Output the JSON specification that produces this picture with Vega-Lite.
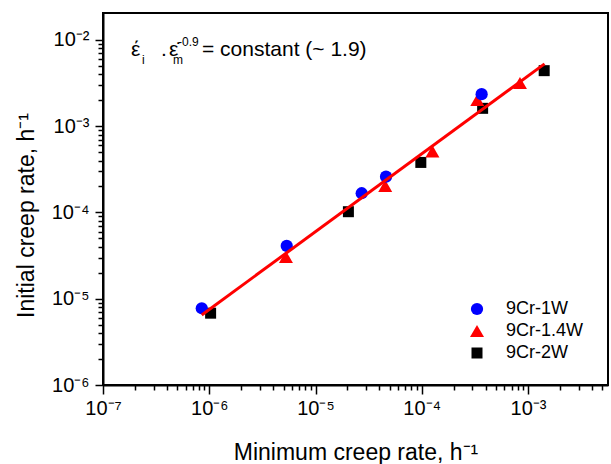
{
  "$schema": "https://vega.github.io/schema/vega-lite/v6.json",
  "width": 505,
  "height": 372,
  "autosize": {"type": "none"},
  "padding": {"left": 103, "top": 13, "right": 3, "bottom": 79},
  "background": "white",
  "config": {
    "font": "Liberation Sans",
    "view": {"stroke": "black", "strokeWidth": 2},
    "axis": {
      "grid": false,
      "domainColor": "black",
      "domainWidth": 2,
      "tickColor": "black",
      "tickWidth": 1.5,
      "labelColor": "black",
      "labelFontSize": 20,
      "labelFont": "Liberation Sans",
      "titleFont": "Liberation Sans",
      "titleFontSize": 23,
      "titleFontWeight": "normal",
      "titleColor": "black",
      "labelOverlap": false,
      "labelFlush": false
    }
  },
  "datasets": {
    "points": [
      {"series": "9Cr-2W", "x": 1.03e-6, "y": 6.8e-6},
      {"series": "9Cr-2W", "x": 2.04e-5, "y": 1.02e-4},
      {"series": "9Cr-2W", "x": 9.8e-5, "y": 3.8e-4},
      {"series": "9Cr-2W", "x": 3.74e-4, "y": 1.61e-3},
      {"series": "9Cr-2W", "x": 1.42e-3, "y": 4.4e-3},
      {"series": "9Cr-1.4W", "x": 5.27e-6, "y": 3.05e-5},
      {"series": "9Cr-1.4W", "x": 4.53e-5, "y": 2.03e-4},
      {"series": "9Cr-1.4W", "x": 1.26e-4, "y": 5.1e-4},
      {"series": "9Cr-1.4W", "x": 3.33e-4, "y": 2.01e-3},
      {"series": "9Cr-1.4W", "x": 8.4e-4, "y": 3.17e-3},
      {"series": "9Cr-1W", "x": 8.5e-7, "y": 7.75e-6},
      {"series": "9Cr-1W", "x": 5.36e-6, "y": 4.09e-5},
      {"series": "9Cr-1W", "x": 2.72e-5, "y": 1.67e-4},
      {"series": "9Cr-1W", "x": 4.61e-5, "y": 2.6e-4},
      {"series": "9Cr-1W", "x": 3.66e-4, "y": 2.35e-3}
    ],
    "fit": [
      {"x": 8.5e-7, "y": 6.48e-6},
      {"x": 1.43e-3, "y": 5.27e-3}
    ],
    "note": [
      {"x": 1.834e-7, "y": 6.52e-3}
    ]
  },
  "layer": [
    {
      "data": {"name": "points"},
      "mark": {"type": "point", "filled": true, "opacity": 1, "strokeWidth": 0},
      "encoding": {
        "x": {
          "field": "x", "type": "quantitative",
          "scale": {"type": "log", "domain": [1e-7, 5.66e-3], "nice": false},
          "axis": {
            "title": "Minimum creep rate, h⁻¹",
            "values": [1e-7,2e-7,3e-7,4e-7,5e-7,6e-7,7e-7,8e-7,9e-7,1e-6,2e-6,3e-6,4e-6,5e-6,6e-6,7e-6,8e-6,9e-6,1e-5,2e-5,3e-5,4e-5,5e-5,6e-5,7e-5,8e-5,9e-5,1e-4,2e-4,3e-4,4e-4,5e-4,6e-4,7e-4,8e-4,9e-4,1e-3,2e-3,3e-3,4e-3,5e-3],
            "labelExpr": "abs(log(datum.value)/LN10 - round(log(datum.value)/LN10)) < 0.001 ? '10⁻' + substring('⁰¹²³⁴⁵⁶⁷⁸⁹', -round(log(datum.value)/LN10), -round(log(datum.value)/LN10)+1) : ''",
            "tickSize": {"condition": {"test": "abs(log(datum.value)/LN10 - round(log(datum.value)/LN10)) < 0.001", "value": 9}, "value": 5},
            "labelPadding": 4,
            "titleBaseline": "alphabetic",
            "titleY": 74
          }
        },
        "y": {
          "field": "y", "type": "quantitative",
          "scale": {"type": "log", "domain": [1e-6, 2.05e-2], "nice": false},
          "axis": {
            "title": "Initial creep rate, h⁻¹",
            "values": [1e-6,2e-6,3e-6,4e-6,5e-6,6e-6,7e-6,8e-6,9e-6,1e-5,2e-5,3e-5,4e-5,5e-5,6e-5,7e-5,8e-5,9e-5,1e-4,2e-4,3e-4,4e-4,5e-4,6e-4,7e-4,8e-4,9e-4,1e-3,2e-3,3e-3,4e-3,5e-3,6e-3,7e-3,8e-3,9e-3,1e-2],
            "labelExpr": "abs(log(datum.value)/LN10 - round(log(datum.value)/LN10)) < 0.001 ? '10⁻' + substring('⁰¹²³⁴⁵⁶⁷⁸⁹', -round(log(datum.value)/LN10), -round(log(datum.value)/LN10)+1) : ''",
            "tickSize": {"condition": {"test": "abs(log(datum.value)/LN10 - round(log(datum.value)/LN10)) < 0.001", "value": 8}, "value": 5},
            "labelPadding": 6,
            "titleBaseline": "alphabetic",
            "titleX": -70,
            "titleY": 202
          }
        },
        "color": {
          "field": "series", "type": "nominal",
          "scale": {"domain": ["9Cr-1W", "9Cr-1.4W", "9Cr-2W"], "range": ["#0000ff", "#ff0000", "#000000"]},
          "legend": {
            "orient": "none", "legendX": 365, "legendY": 287, "title": null,
            "labelFontSize": 18, "labelFont": "Liberation Sans", "labelColor": "black",
            "rowPadding": 4, "padding": 0, "labelOffset": 20, "symbolStrokeWidth": 0
          }
        },
        "shape": {
          "field": "series", "type": "nominal",
          "scale": {"domain": ["9Cr-1W", "9Cr-1.4W", "9Cr-2W"], "range": ["circle", "triangle-up", "square"]}
        },
        "size": {
          "field": "series", "type": "nominal",
          "scale": {"type": "ordinal", "domain": ["9Cr-1W", "9Cr-1.4W", "9Cr-2W"], "range": [150, 196, 121]}
        }
      }
    },
    {
      "data": {"name": "fit"},
      "mark": {"type": "line", "color": "#ff0000", "strokeWidth": 3},
      "encoding": {
        "x": {"field": "x", "type": "quantitative"},
        "y": {"field": "y", "type": "quantitative"}
      }
    },
    {
      "data": {"name": "note"},
      "mark": {"type": "text", "text": "έ", "fontSize": 21, "align": "left", "baseline": "alphabetic", "color": "black"},
      "encoding": {"x": {"field": "x", "type": "quantitative"}, "y": {"field": "y", "type": "quantitative"}}
    },
    {
      "data": {"name": "note"},
      "mark": {"type": "text", "text": "i", "fontSize": 12, "dx": 11, "dy": 8, "align": "left", "baseline": "alphabetic", "color": "black"},
      "encoding": {"x": {"field": "x", "type": "quantitative"}, "y": {"field": "y", "type": "quantitative"}}
    },
    {
      "data": {"name": "note"},
      "mark": {"type": "text", "text": ".", "fontSize": 21, "dx": 30, "align": "left", "baseline": "alphabetic", "color": "black"},
      "encoding": {"x": {"field": "x", "type": "quantitative"}, "y": {"field": "y", "type": "quantitative"}}
    },
    {
      "data": {"name": "note"},
      "mark": {"type": "text", "text": "ε̇", "fontSize": 21, "dx": 38, "align": "left", "baseline": "alphabetic", "color": "black"},
      "encoding": {"x": {"field": "x", "type": "quantitative"}, "y": {"field": "y", "type": "quantitative"}}
    },
    {
      "data": {"name": "note"},
      "mark": {"type": "text", "text": "m", "fontSize": 12, "dx": 42, "dy": 8, "align": "left", "baseline": "alphabetic", "color": "black"},
      "encoding": {"x": {"field": "x", "type": "quantitative"}, "y": {"field": "y", "type": "quantitative"}}
    },
    {
      "data": {"name": "note"},
      "mark": {"type": "text", "text": "-0.9", "fontSize": 12, "dx": 47, "dy": -10, "align": "left", "baseline": "alphabetic", "color": "black"},
      "encoding": {"x": {"field": "x", "type": "quantitative"}, "y": {"field": "y", "type": "quantitative"}}
    },
    {
      "data": {"name": "note"},
      "mark": {"type": "text", "text": "= constant (~ 1.9)", "fontSize": 21, "dx": 71, "align": "left", "baseline": "alphabetic", "color": "black"},
      "encoding": {"x": {"field": "x", "type": "quantitative"}, "y": {"field": "y", "type": "quantitative"}}
    }
  ]
}
